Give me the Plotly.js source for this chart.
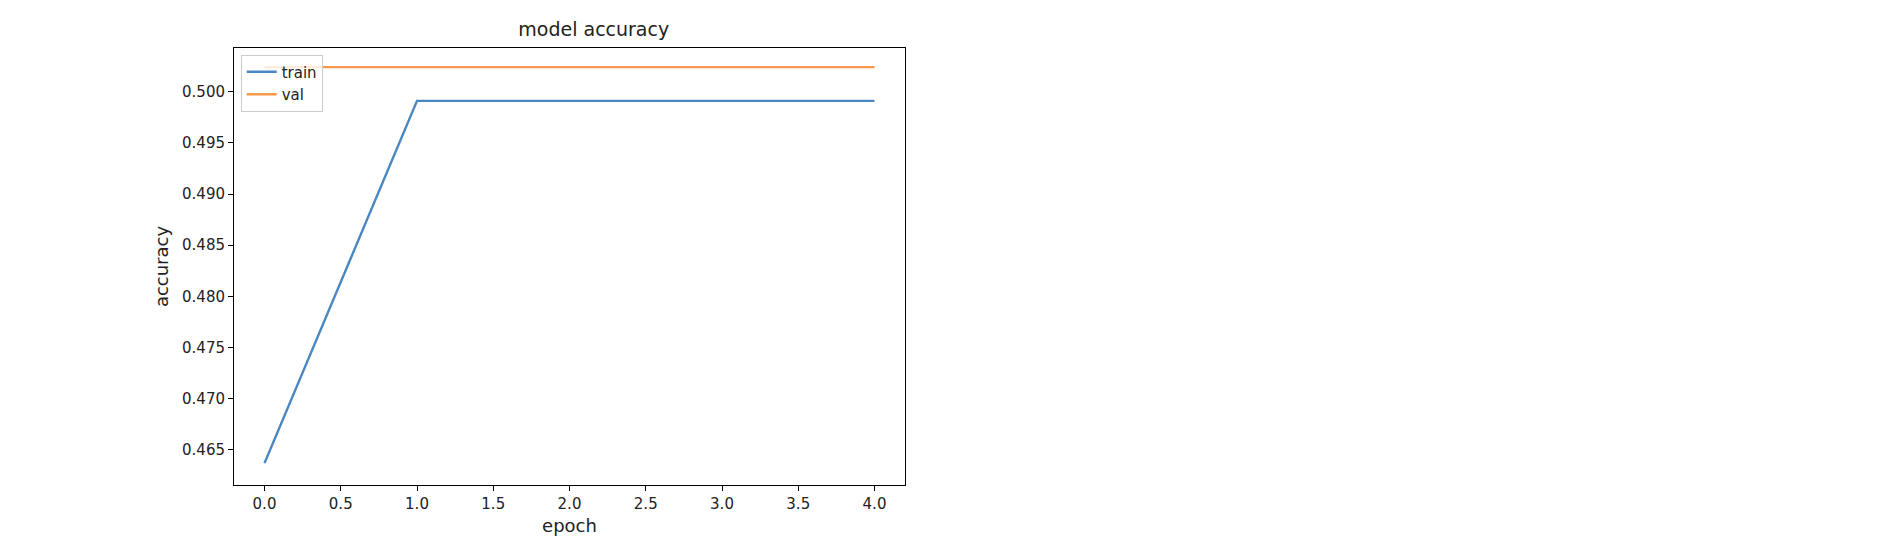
<!DOCTYPE html>
<html>
<head>
<script src="https://cdn.plot.ly/plotly-3.0.1.min.js"></script>
<style>body{margin:0;background:#fff}</style>
</head>
<body>
<div id="g1" style="width:1900px;height:536px"></div>
<script>
var epoch = [0, 1, 2, 3, 4];
var train_acc = [0.4637, 0.4991, 0.4991, 0.4991, 0.4991];
var val_acc = [0.5024, 0.5024, 0.5024, 0.5024, 0.5024];

var train = {
  x: epoch,
  y: train_acc,
  name: 'train',
  mode: 'lines',
  type: 'scatter',
  line: {color: '#4a86bf', width: 2.4}
};

var val = {
  x: epoch,
  y: val_acc,
  name: 'val',
  mode: 'lines',
  type: 'scatter',
  line: {color: '#f7994a', width: 2.4}
};

var layout = {
  width: 1900,
  height: 536,
  margin: {l: 234, r: 995, t: 48, b: 51, pad: 0},
  font: {family: 'DejaVu Sans', size: 15, color: '#222'},
  plot_bgcolor: '#fff',
  paper_bgcolor: '#fff',
  title: {text: 'model accuracy', font: {size: 19}, x: 0.3125, xanchor: 'center', y: 0.945, yanchor: 'middle'},
  showlegend: true,
  legend: {x: 0.01, y: 0.985, xanchor: 'left', yanchor: 'top', bordercolor: '#ccc', borderwidth: 1, bgcolor: 'rgba(255,255,255,0.8)', font: {size: 15}},
  xaxis: {
    range: [-0.2, 4.2],
    dtick: 0.5,
    tickformat: '.1f',
    showgrid: false, zeroline: false,
    showline: true, mirror: true, linecolor: '#000', linewidth: 1,
    ticks: 'outside', ticklen: 5, tickcolor: '#000',
    title: {text: 'epoch', standoff: 14}
  },
  yaxis: {
    range: [0.46156, 0.50427],
    dtick: 0.005,
    tickformat: '.3f',
    showgrid: false, zeroline: false,
    showline: true, mirror: true, linecolor: '#000', linewidth: 1,
    ticks: 'outside', ticklen: 5, tickcolor: '#000',
    title: {text: 'accuracy', standoff: 8}
  }
};

Plotly.newPlot('g1', [train, val], layout, {displayModeBar: false});
</script>
</body>
</html>
